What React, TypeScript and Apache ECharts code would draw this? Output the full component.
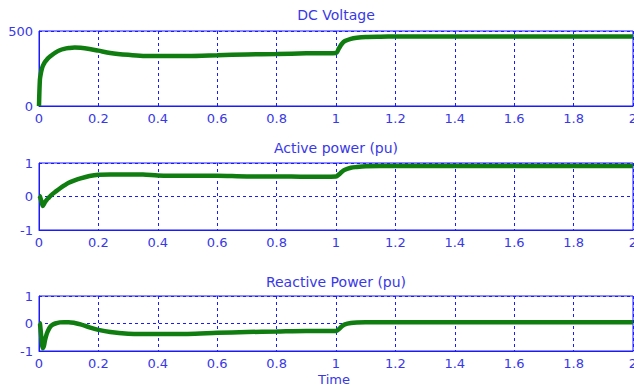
import React, { useEffect, useRef } from "react";
import * as echarts from "echarts";

const timeVals = [0, 0.003, 0.006, 0.01, 0.013, 0.017, 0.02, 0.026, 0.03, 0.037, 0.045, 0.055, 0.07, 0.085, 0.1, 0.12, 0.14, 0.17, 0.2, 0.24, 0.3, 0.35, 0.4, 0.5, 0.6, 0.7, 0.8, 0.9, 1.0, 1.01, 1.02, 1.03, 1.05, 1.07, 1.1, 1.15, 1.2, 1.4, 1.6, 1.8, 2.0];

const dcVoltage = [0, 175, 215, 250, 268, 282, 293, 308, 318, 330, 342, 356, 372, 381, 386, 390, 388, 380, 369, 354, 341, 334, 333, 333, 338, 344, 347, 351, 354, 385, 415, 433, 448, 455, 460, 462, 463, 463, 463, 463, 463];

const activePower = [0.03, 0.0, -0.08, -0.2, -0.28, -0.22, -0.17, -0.1, -0.06, 0.0, 0.07, 0.14, 0.24, 0.33, 0.41, 0.48, 0.54, 0.61, 0.65, 0.66, 0.66, 0.66, 0.63, 0.62, 0.62, 0.6, 0.6, 0.59, 0.6, 0.66, 0.74, 0.8, 0.86, 0.88, 0.9, 0.91, 0.91, 0.91, 0.91, 0.91, 0.91];

const reactivePower = [0.03, 0.0, -0.3, -0.75, -0.9, -0.8, -0.62, -0.38, -0.27, -0.13, -0.05, 0.0, 0.04, 0.05, 0.05, 0.02, -0.03, -0.14, -0.23, -0.31, -0.37, -0.38, -0.38, -0.38, -0.34, -0.31, -0.29, -0.27, -0.27, -0.2, -0.1, -0.03, 0.02, 0.04, 0.05, 0.05, 0.05, 0.05, 0.05, 0.05, 0.05];

const titles = ["DC Voltage", "Active power (pu)", "Reactive Power (pu)"];
const xLabel = "Time";

const BLUE = "#1a1aff";
const TXT = "#3838e8";
const GREEN = "#0f7d0f";
const FONT = "DejaVu Sans";

export default function App() {
  const ref = useRef<HTMLDivElement>(null);
  useEffect(() => {
    if (!ref.current) return;
    const chart = echarts.init(ref.current, null, { renderer: "svg" });
    const grids = [
      { left: 39, right: 1, top: 31, height: 75 },
      { left: 39, right: 1, top: 163, height: 67 },
      { left: 39, right: 1, top: 296, height: 55 },
    ].map((g) => ({
      ...g,
      show: true,
      borderColor: BLUE,
      borderWidth: 1,
      backgroundColor: "#fff",
      containLabel: false,
      outerBoundsMode: "none",
    }));

    const xAxes = [0, 1, 2].map((i) => ({
      type: "value",
      gridIndex: i,
      min: 0,
      max: 2,
      interval: 0.2,
      axisLine: { show: true, onZero: false, lineStyle: { color: BLUE, width: 1 } },
      axisTick: { show: false },
      axisLabel: { color: TXT, fontSize: 13, fontFamily: FONT, margin: 6, showMaxLabel: true, hideOverlap: false },
      splitLine: { show: true, lineStyle: { color: BLUE, type: [3, 3], width: 1 } },
    }));

    const yRanges = [
      { min: 0, max: 500, interval: 500 },
      { min: -1, max: 1, interval: 1 },
      { min: -1, max: 1, interval: 1 },
    ];
    const yAxes = yRanges.map((r, i) => ({
      type: "value",
      gridIndex: i,
      ...r,
      axisLine: { show: true, onZero: false, lineStyle: { color: BLUE, width: 1 } },
      axisTick: { show: false },
      axisLabel: { color: TXT, fontSize: 13, fontFamily: FONT, margin: 6 },
      splitLine: { show: true, lineStyle: { color: BLUE, type: [3, 3], width: 1 } },
    }));

    const datasets = [dcVoltage, activePower, reactivePower];
    const series = datasets.map((vals, i) => ({
      type: "line",
      xAxisIndex: i,
      yAxisIndex: i,
      data: timeVals.map((t, k) => [t, vals[k]]),
      showSymbol: false,
      smooth: 0.3,
      lineStyle: { color: GREEN, width: 4.5 },
      itemStyle: { color: GREEN },
    }));

    const titleYs = [15, 148, 282];
    const graphic: any[] = titles.map((t, i) => ({
      type: "text",
      x: 336,
      y: titleYs[i],
      style: { text: t, fill: TXT, font: `14px "${FONT}"`, textAlign: "center", textVerticalAlign: "middle" },
    }));
    graphic.push({
      type: "text",
      x: 334,
      y: 379,
      style: { text: xLabel, fill: TXT, font: `13px "${FONT}"`, textAlign: "center", textVerticalAlign: "middle" },
    });

    chart.setOption({
      animation: false,
      backgroundColor: "#fff",
      grid: grids,
      xAxis: xAxes,
      yAxis: yAxes,
      series,
      graphic,
    });
    return () => chart.dispose();
  }, []);
  return <div ref={ref} style={{ position: "fixed", left: 0, top: 0, width: 634, height: 387 }} />;
}
